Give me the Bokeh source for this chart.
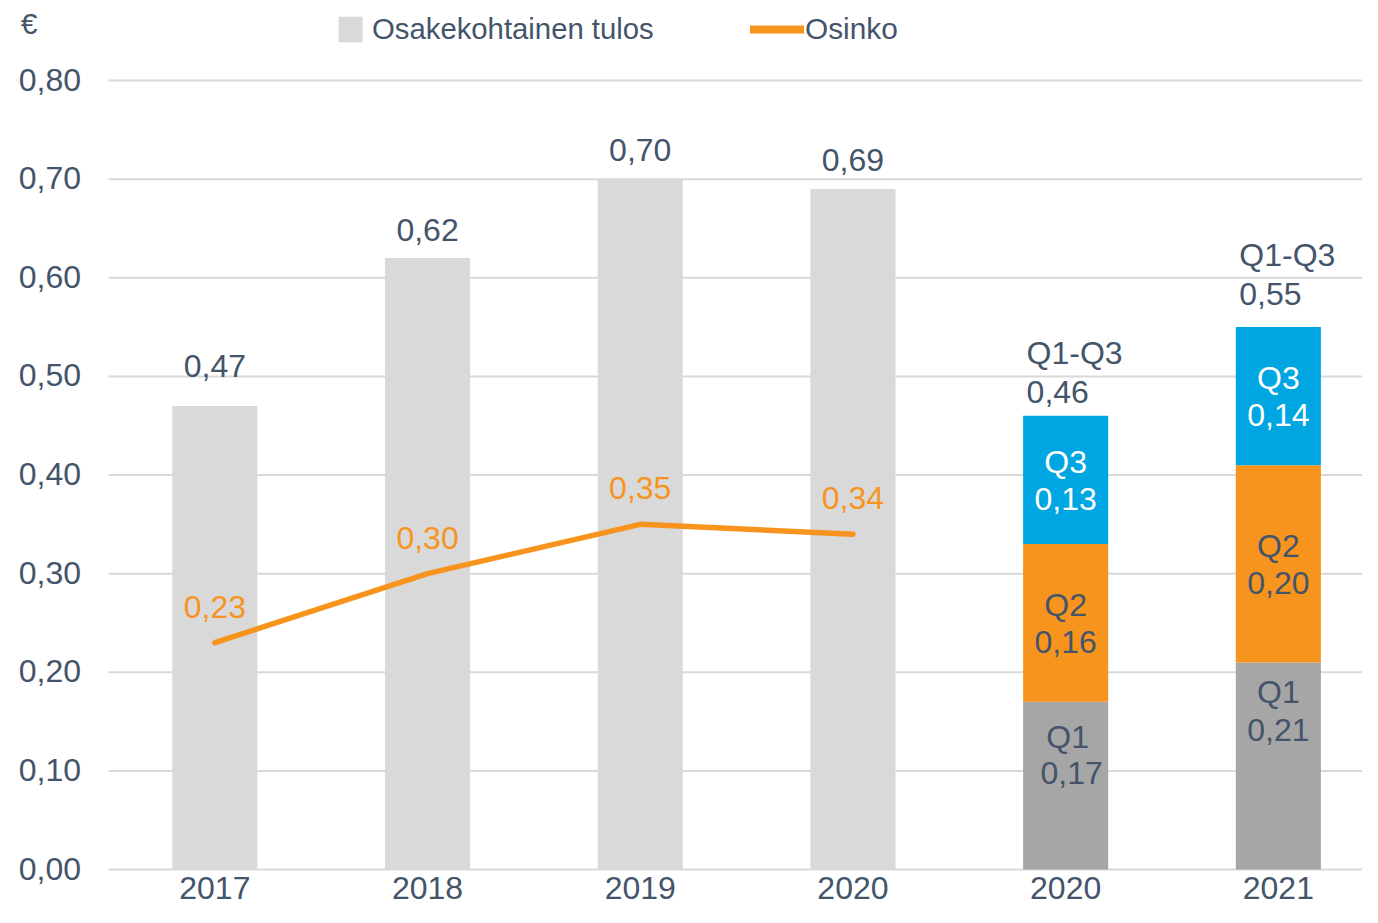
from bokeh.plotting import figure
from bokeh.models import (ColumnDataSource, Range1d, LabelSet, Label, Legend, LegendItem)
from bokeh.core.properties import value
from bokeh.embed import file_html
from bokeh.resources import INLINE

# ---------------- data ----------------
categories = ["2017", "2018", "2019", "2020", "2020", "2021"]
annual_eps = [0.47, 0.62, 0.70, 0.69]          # Osakekohtainen tulos (years 2017-2020)
annual_eps_labels = ["0,47", "0,62", "0,70", "0,69"]
dividend = [0.23, 0.30, 0.35, 0.34]            # Osinko
dividend_labels = ["0,23", "0,30", "0,35", "0,34"]
q1 = [0.17, 0.21]                              # quarterly EPS, 2020 Q1-Q3 and 2021 Q1-Q3
q2 = [0.16, 0.20]
q3 = [0.13, 0.14]
q1_labels = ["0,17", "0,21"]
q2_labels = ["0,16", "0,20"]
q3_labels = ["0,13", "0,14"]
q_total = [0.46, 0.55]
q_total_labels = ["0,46", "0,55"]
y_ticks = [0.0, 0.1, 0.2, 0.3, 0.4, 0.5, 0.6, 0.7, 0.8]
y_tick_labels = ["0,00", "0,10", "0,20", "0,30", "0,40", "0,50", "0,60", "0,70", "0,80"]

# ---------------- style / layout ----------------
FONT = value("Liberation Sans")
FONT_S = "Liberation Sans"
TXT = "#44546A"
LIGHT = "#D9D9D9"
GRID = "#D9D9D9"
GRAY = "#A6A6A6"
ORANGE = "#F7941D"
BLUE = "#00A6E2"
FS = "32px"
BAR_W = 0.4
W, H = 1362, 907
PX_X = 212.7            # pixels per category
X0_PX = 214.35          # pixel of first category centre
PX_Y = 986.25           # pixels per 1.0 on the value axis
Y0_PX = 869             # pixel of value 0

n = len(categories)
xs = list(range(n))
ann_x = xs[:len(annual_eps)]
q_x = xs[len(annual_eps):]

x_start = -X0_PX / PX_X
x_end = x_start + W / PX_X
y_end = Y0_PX / PX_Y
y_start = -(H - Y0_PX) / PX_Y

p = figure(width=W, height=H, output_backend="svg", toolbar_location=None,
           x_range=Range1d(x_start, x_end), y_range=Range1d(y_start, y_end),
           x_axis_location=None, y_axis_location=None,
           min_border_left=0, min_border_right=0, min_border_top=0, min_border_bottom=0)
p.outline_line_color = None
p.background_fill_color = "white"
p.border_fill_color = "white"
p.xgrid.grid_line_color = None
p.ygrid.grid_line_color = None

band_left = xs[0] - 0.5
# horizontal grid lines starting at the left edge of the first category band
grid_src = ColumnDataSource(dict(y=y_ticks, x0=[band_left] * len(y_ticks),
                                 x1=[x_end] * len(y_ticks), lab=y_tick_labels))
p.segment(x0="x0", x1="x1", y0="y", y1="y", source=grid_src, line_color=GRID, line_width=2)
p.add_layout(LabelSet(x="x0", y="y", text="lab", source=grid_src, text_font=FONT,
                      text_font_size=FS, text_color=TXT, text_align="right",
                      text_baseline="middle", x_offset=-27.5, y_offset=1))

# annual bars
ann_src = ColumnDataSource(dict(x=ann_x, top=annual_eps, lab=annual_eps_labels,
                                off=[40, 28, 29, 29]))
bars = p.vbar(x="x", top="top", width=BAR_W, bottom=0, source=ann_src,
              fill_color=LIGHT, line_color=None)

# stacked quarterly bars
q_src = ColumnDataSource(dict(
    x=q_x,
    b1=[0 for _ in q1],
    t1=q1,
    t2=[a + b for a, b in zip(q1, q2)],
    t3=[a + b + c for a, b, c in zip(q1, q2, q3)],
    q1l=q1_labels, q2l=q2_labels, q3l=q3_labels,
    tot=q_total, totl=q_total_labels,
    q1n=["Q1", "Q1"], q2n=["Q2", "Q2"], q3n=["Q3", "Q3"], hdr=["Q1-Q3", "Q1-Q3"],
    left=[v - BAR_W / 2 for v in q_x],
    m2=[a + b / 2 for a, b in zip(q1, q2)],
    m3=[a + b + c / 2 for a, b, c in zip(q1, q2, q3)],
    q1o=[-35, -30], q1vo=[-71, -68], q1xo=[2, 0], q1vxo=[6, 0],
    toff=[24, 33], hoff=[63, 72],
))
p.vbar(x="x", bottom="b1", top="t1", width=BAR_W, source=q_src, fill_color=GRAY, line_color=None)
p.vbar(x="x", bottom="t1", top="t2", width=BAR_W, source=q_src, fill_color=ORANGE, line_color=None)
p.vbar(x="x", bottom="t2", top="t3", width=BAR_W, source=q_src, fill_color=BLUE, line_color=None)

# dividend line
div_src = ColumnDataSource(dict(x=ann_x, y=dividend, lab=dividend_labels))
div_line = p.line(x="x", y="y", source=div_src, line_color=ORANGE, line_width=5.5,
                  line_cap="round", line_join="round")
legend_line = p.line(x=[float("nan")], y=[float("nan")], line_color=ORANGE, line_width=8,
                     line_cap="round")


def lset(source, x, y, text, color=TXT, yo=0, xo=0, align="center", fs=FS):
    ls = LabelSet(x=x, y=y, text=text, source=source, text_font=FONT, text_font_size=fs,
                  text_color=color, text_align=align, text_baseline="middle",
                  y_offset=yo, x_offset=xo)
    p.add_layout(ls)
    return ls


# annual bar value labels
lset(ann_src, "x", "top", "lab", yo="off")
# dividend labels
lset(div_src, "x", "y", "lab", color=ORANGE, yo=36)

# quarterly labels
lset(q_src, "x", "t1", "q1n", yo="q1o", xo="q1xo")
lset(q_src, "x", "t1", "q1l", yo="q1vo", xo="q1vxo")
lset(q_src, "x", "m2", "q2n", yo=18)
lset(q_src, "x", "m2", "q2l", yo=-19)
lset(q_src, "x", "m3", "q3n", color="white", yo=18)
lset(q_src, "x", "m3", "q3l", color="white", yo=-19)
lset(q_src, "left", "tot", "totl", yo="toff", xo=3.5, align="left")
lset(q_src, "left", "tot", "hdr", yo="hoff", xo=3.5, align="left")

# category labels below the baseline
cat_src = ColumnDataSource(dict(x=xs, y=[0] * n, lab=categories))
lset(cat_src, "x", "y", "lab", yo=-18)

# euro sign
p.add_layout(Label(x=x_start + 28.5 / PX_X, y=(Y0_PX - 22.5) / PX_Y, text="€",
                   text_font=FONT_S, text_font_size="30px", text_color=TXT,
                   text_align="center", text_baseline="middle"))

# legends
leg_common = dict(orientation="horizontal", padding=0, margin=0, border_line_color=None,
                  background_fill_alpha=0, label_text_font=FONT_S,
                  label_text_color=TXT, glyph_height=32)
leg1 = Legend(items=[LegendItem(label="Osakekohtainen tulos", renderers=[bars])],
              location=(335, 861), glyph_width=30, label_standoff=7,
              label_text_font_size="29.3px", **leg_common)
leg2 = Legend(items=[LegendItem(label="Osinko", renderers=[legend_line])],
              location=(750, 861), glyph_width=54, label_standoff=1,
              label_text_font_size="29.8px", **leg_common)
p.add_layout(leg1)
p.add_layout(leg2)

open("out.html", "w").write(file_html(p, INLINE))
